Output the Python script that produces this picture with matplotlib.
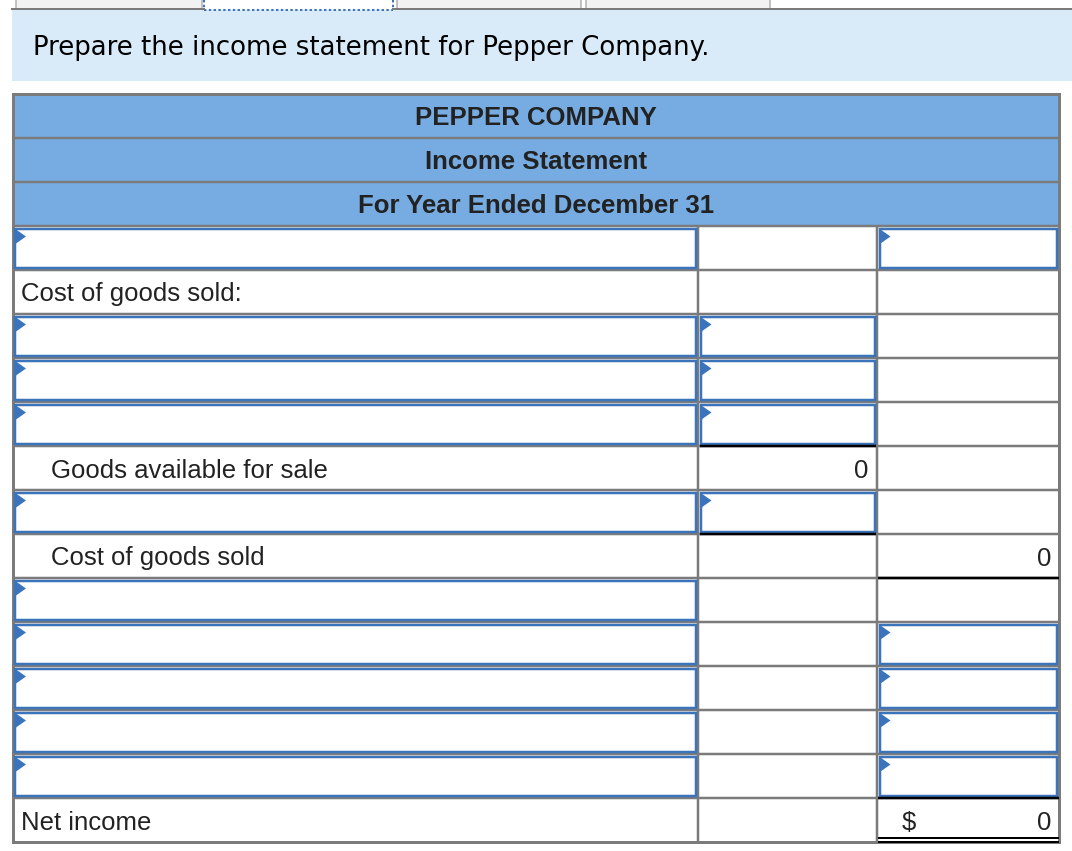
import matplotlib
matplotlib.use("Agg")
import matplotlib.pyplot as plt
from matplotlib.patches import Rectangle, Polygon

# Form content
prompt = "Prepare the income statement for Pepper Company."
header_lines = ["PEPPER COMPANY", "Income Statement", "For Year Ended December 31"]

row_labels = ["", "Cost of goods sold:", "", "", "", "Goods available for sale", "",
              "Cost of goods sold", "", "", "", "", "", "Net income"]
label_indent = [0, 0, 0, 0, 0, 1, 0, 1, 0, 0, 0, 0, 0, 0]

col2_values = {5: "0"}
col3_values = {7: "0", 13: "0"}
dollar_rows = [13]

col1_inputs = [0, 2, 3, 4, 6, 8, 9, 10, 11, 12]
col2_inputs = [2, 3, 4, 6]
col3_inputs = [0, 9, 10, 11, 12]

# black rule at the top of these rows (subtotals)
col2_total_rows = [5, 7]
col3_total_rows = [8]

# colours
GRAY = "#7b7b7b"
HEAD_BLUE = "#76ace1"
LIGHT_BLUE = "#d9ebf9"
INPUT_BLUE = "#3b74ba"
TEXT = "#222222"

def lw(px):
    return px * 0.72

fig = plt.figure(figsize=(10.72, 8.51), dpi=100)
ax = fig.add_axes([0, 0, 1, 1])
ax.set_xlim(0, 1072)
ax.set_ylim(851, 0)
ax.axis("off")

# top tabs
for x0, x1, fill in [(16, 202, "#f2f2f2"), (397, 581, "#f2f2f2"), (586, 770, "#f2f2f2")]:
    ax.add_patch(Rectangle((x0, -2), x1 - x0, 11, facecolor=fill, edgecolor="#b0b0b0", lw=lw(1.5)))
ax.plot([204, 393], [10, 10], color=INPUT_BLUE, lw=lw(2), ls=(0, (1.2, 1.2)))
ax.plot([204, 204], [0, 10], color=INPUT_BLUE, lw=lw(2), ls=(0, (1.2, 1.2)))
ax.plot([393, 393], [0, 10], color=INPUT_BLUE, lw=lw(2), ls=(0, (1.2, 1.2)))
ax.plot([12, 204], [9, 9], color=GRAY, lw=lw(2))
ax.plot([393, 1072], [9, 9], color=GRAY, lw=lw(2))

# prompt box
ax.add_patch(Rectangle((12, 10), 1060, 71, facecolor=LIGHT_BLUE, edgecolor="none"))
ax.text(33, 55, prompt, fontsize=18.7, family="DejaVu Sans", color="black", va="baseline")

# table geometry
left, right = 13, 1059
c1, c2 = 698, 877
top = 94
row_h = 44
n_head = len(header_lines)
body_top = top + n_head * row_h
n_rows = len(row_labels)
bottom = body_top + n_rows * row_h

# header
ax.add_patch(Rectangle((left, top), right - left, n_head * row_h, facecolor=HEAD_BLUE, edgecolor="none"))
for i, txt in enumerate(header_lines):
    ax.text((left + right) / 2, top + i * row_h + 31, txt, fontsize=18.5, family="Liberation Sans",
            weight="bold", color=TEXT, ha="center", va="baseline")

# grid
for i in range(1, n_head + n_rows):
    y = top + i * row_h
    ax.plot([left, right], [y, y], color=GRAY, lw=lw(2.5), solid_capstyle="butt")
for x in [c1, c2]:
    ax.plot([x, x], [body_top, bottom], color=GRAY, lw=lw(2.5), solid_capstyle="butt")
ax.add_patch(Rectangle((left, top), right - left, bottom - top, facecolor="none", edgecolor=GRAY, lw=lw(3)))

# input boxes
def input_box(row, x0, x1):
    y0 = body_top + row * row_h + 2.5
    h = row_h - 5
    ax.add_patch(Rectangle((x0, y0), x1 - x0, h, facecolor="white", edgecolor=INPUT_BLUE, lw=lw(2.5), zorder=3))
    ax.add_patch(Polygon([(x0 + 1, y0 + 1), (x0 + 1, y0 + 15), (x0 + 11, y0 + 8)], closed=True,
                         facecolor=INPUT_BLUE, edgecolor="none", zorder=4))

for r in col1_inputs:
    input_box(r, left + 2, c1 - 2)
for r in col2_inputs:
    input_box(r, c1 + 2.5, c2 - 2.5)
for r in col3_inputs:
    input_box(r, c2 + 2.5, right - 2)

# labels
for r, lab in enumerate(row_labels):
    if lab:
        x = 21 + 30 * label_indent[r]
        ax.text(x, body_top + r * row_h + 31.5, lab, fontsize=18.5, family="Liberation Sans",
                color=TEXT, va="baseline")

for r, v in col2_values.items():
    ax.text(c2 - 9, body_top + r * row_h + 31.5, v, fontsize=18.5, family="Liberation Sans",
            color=TEXT, ha="right", va="baseline")
for r, v in col3_values.items():
    ax.text(right - 8, body_top + r * row_h + 31.5, v, fontsize=18.5, family="Liberation Sans",
            color=TEXT, ha="right", va="baseline")
for r in dollar_rows:
    ax.text(c2 + 25, body_top + r * row_h + 31.5, "$", fontsize=18.5, family="Liberation Sans",
            color=TEXT, ha="left", va="baseline")

# total rules
for r in col2_total_rows:
    y = body_top + r * row_h
    ax.plot([c1 + 2, c2 - 1], [y, y], color="black", lw=lw(2.5), zorder=5, solid_capstyle="butt")
for r in col3_total_rows:
    y = body_top + r * row_h
    ax.plot([c2 + 1, right], [y, y], color="black", lw=lw(2.5), zorder=5, solid_capstyle="butt")
for r in dollar_rows:
    y = body_top + r * row_h
    ax.plot([c2 + 1, right], [y, y], color="black", lw=lw(2.5), zorder=5, solid_capstyle="butt")
    ax.plot([c2 + 1, right], [bottom - 4.5, bottom - 4.5], color="black", lw=lw(2), zorder=5, solid_capstyle="butt")
    ax.plot([c2 + 1, right], [bottom - 0.5, bottom - 0.5], color="black", lw=lw(2), zorder=5, solid_capstyle="butt")

fig.savefig("out.png", dpi=100)
